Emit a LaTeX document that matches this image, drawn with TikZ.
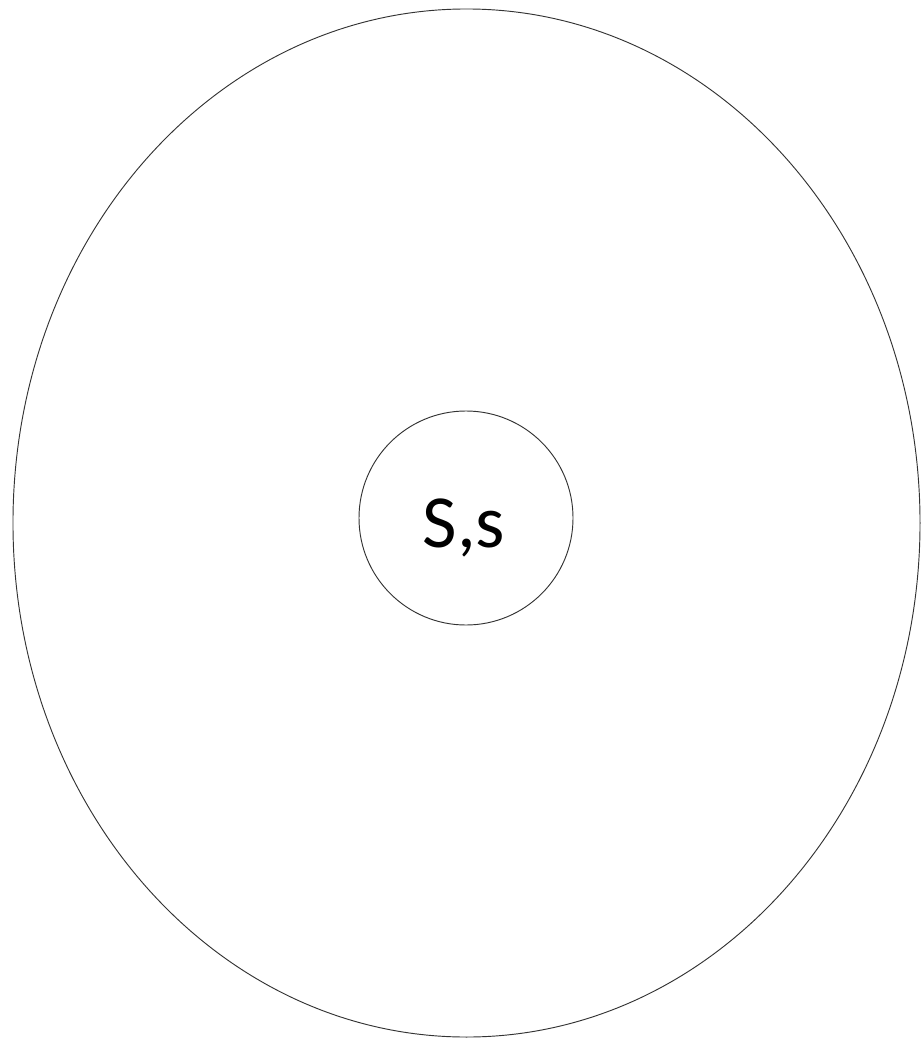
\documentclass[tikz,border=0pt]{standalone}
\usepackage{fontspec}
\setsansfont{Carlito}
\usetikzlibrary{shapes.geometric}

\begin{document}
\begin{tikzpicture}[x=0.03cm, y=-0.03cm,
  outline/.style={draw=black!80, line width=0.8pt, inner sep=0pt, outer sep=0pt},
  core/.style={outline, circle, minimum size=6.42cm}]
\useasboundingbox (0,0) rectangle (923,1041);
% outer region
\node[outline, ellipse, minimum width=27.21cm, minimum height=30.84cm] (world) at (466.5,523) {};
% inner state
\node[core] (state) at (466,518) {};
\node[font=\sffamily\fontsize{64}{70}\selectfont, inner sep=0pt] (label) at (464,528) {S,s};
\end{tikzpicture}
\end{document}
